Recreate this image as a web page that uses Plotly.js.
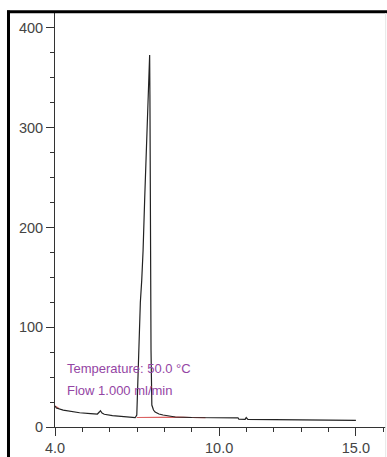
<!DOCTYPE html>
<html>
<head>
<meta charset="utf-8">
<script src="https://cdn.plot.ly/plotly-3.0.1.min.js"></script>
<style>
  html, body { margin: 0; padding: 0; background: #fff; }
  #chart { width: 387px; height: 457px; }
</style>
</head>
<body>
<div id="chart"></div>
<script>
// Chromatogram signal (retention time in min, response)
var signalTime = [4.0, 4.05, 4.3, 4.6, 4.9, 5.3, 5.55, 5.62, 5.66, 5.72, 5.8, 6.1, 6.5, 6.93,
                  6.99, 7.03, 7.07, 7.12, 7.17, 7.22, 7.28, 7.36, 7.40, 7.46, 7.47, 7.48, 7.49, 7.51, 7.54,
                  7.6, 7.66, 7.8, 7.95, 8.4, 9.0, 9.5, 10.0, 10.69, 10.72, 10.95, 10.99, 11.05, 12.0, 13.0, 14.0, 15.0];
var signalValue = [21, 19, 17, 15.5, 14.3, 13.5, 13, 15, 16.3, 14, 12.8, 11.5, 10.3, 9.3,
                   12, 50, 94, 125, 147, 177, 230, 298, 333, 373, 333, 250, 150, 77, 22,
                   17, 15, 13, 12, 10, 9.5, 9.3, 9.3, 9.2, 7.8, 7.6, 9.5, 7.6, 7.3, 7.0, 6.8, 6.7];
// Integration baseline segments (red)
var baseTimeA = [4.0, 4.15];
var baseValueA = [21, 18.5];
var baseTimeB = [6.99, 7.5, 8.0, 8.5, 9.0, 9.5];
var baseValueB = [9.5, 9.8, 10.0, 9.8, 9.5, 9.3];
// Axis ticks
var xTickVals = [4, 10, 15];
var xTickText = ["4.0", "10.0", "15.0"];
var yTickVals = [0, 100, 200, 300, 400];
var yTickText = ["0", "100", "200", "300", "400"];
// Annotation texts
var infoLines = ["Temperature: 50.0 °C", "Flow 1.000 ml/min"];
var infoY = [59, 37];

var axisColor = "#333333";
var traces = [
  { x: baseTimeA, y: baseValueA, mode: "lines", line: { color: "rgba(210,60,60,0.8)", width: 1.2 }, hoverinfo: "skip" },
  { x: baseTimeB, y: baseValueB, mode: "lines", line: { color: "rgba(210,60,60,0.8)", width: 1.2 }, hoverinfo: "skip" },
  { x: signalTime, y: signalValue, mode: "lines", line: { color: "#222222", width: 1.2 }, hoverinfo: "skip" }
];

var annotations = infoLines.map(function (t, i) {
  return { x: 4.37, y: infoY[i], xref: "x", yref: "y", text: t, showarrow: false,
           xanchor: "left", yanchor: "middle",
           font: { family: "Liberation Sans, Arial, sans-serif", size: 13, color: "#9445a4" } };
});

var layout = {
  width: 387, height: 457,
  margin: { l: 55, r: 1, t: 13, b: 30, pad: 0 },
  paper_bgcolor: "#ffffff", plot_bgcolor: "#ffffff",
  showlegend: false,
  xaxis: {
    range: [4, 16.1], showgrid: false, zeroline: false,
    showline: true, linecolor: axisColor, linewidth: 1,
    ticks: "outside", ticklen: 8, tickcolor: axisColor, tickwidth: 1,
    tickmode: "array", tickvals: xTickVals, ticktext: xTickText,
    tickfont: { family: "Liberation Sans, Arial, sans-serif", size: 14.5, color: "#444" },
    minor: { tick0: 4, dtick: 1, ticks: "outside", ticklen: 4, tickcolor: axisColor, showgrid: false },
    automargin: false, fixedrange: true
  },
  yaxis: {
    range: [0, 415], showgrid: false, zeroline: false,
    showline: true, linecolor: axisColor, linewidth: 1,
    ticks: "outside", ticklen: 8, tickcolor: axisColor, tickwidth: 1,
    tickmode: "array", tickvals: yTickVals, ticktext: yTickText,
    tickfont: { family: "Liberation Sans, Arial, sans-serif", size: 14.5, color: "#444" },
    minor: { tick0: 0, dtick: 25, ticks: "outside", ticklen: 4, tickcolor: axisColor, showgrid: false },
    automargin: false, fixedrange: true
  },
  annotations: annotations,
  shapes: [
    { type: "line", xref: "paper", yref: "paper", x0: -0.1405, x1: -0.1405, y0: -0.08, y1: 1.006,
      line: { color: "#000", width: 3 } },
    { type: "line", xref: "paper", yref: "paper", x0: -0.145, x1: 1.01, y0: 1.003, y1: 1.003,
      line: { color: "#000", width: 3 } },
    { type: "line", xref: "paper", yref: "paper", x0: 0.999, x1: 0.999, y0: -0.08, y1: 1.0,
      line: { color: "#e6e6e6", width: 1 } }
  ]
};

Plotly.newPlot("chart", traces, layout, { staticPlot: true, displayModeBar: false });
</script>
</body>
</html>
